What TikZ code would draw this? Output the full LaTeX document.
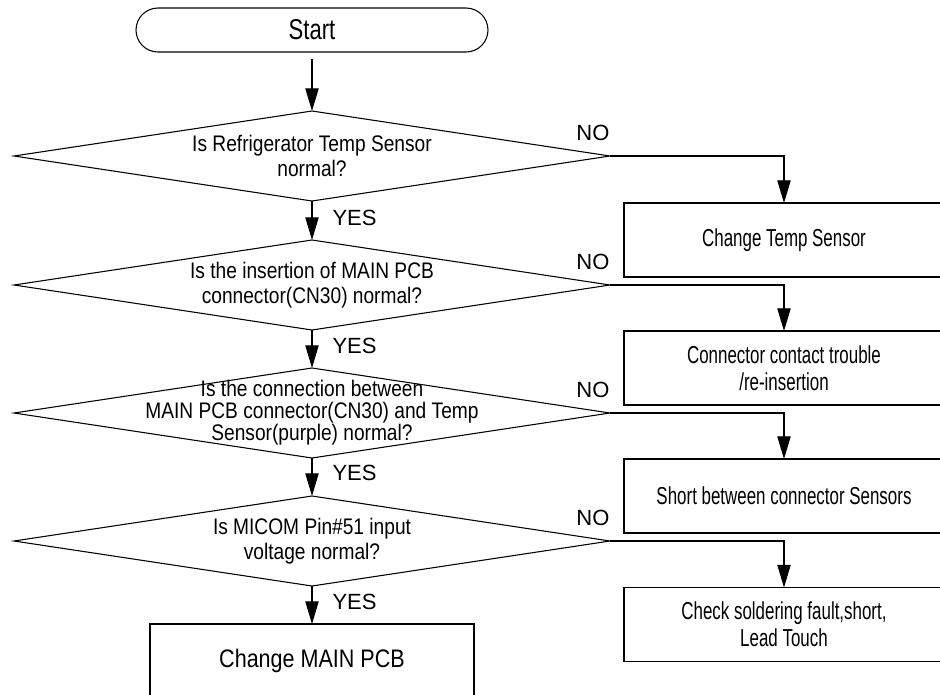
\documentclass[tikz,border=0pt]{standalone}
\usepackage{fontspec}
\setmainfont{Liberation Sans}
\newfontfamily\narrowfont{Liberation Sans}[FakeStretch=0.85]
\newfontfamily\boxfont{Liberation Sans}[FakeStretch=0.69]
\newfontfamily\startfont{Liberation Sans}[FakeStretch=0.77]
\usetikzlibrary{shapes.geometric,arrows.meta,calc}
\newcommand\mytightlines{\lineskiplimit=-20pt\relax\lineskip=0pt\relax}
\begin{document}
\begin{tikzpicture}[x=0.75pt,y=-0.75pt,
  line width=0.8pt,
  decision/.style={draw, shape=diamond, minimum width=447pt, minimum height=67.5pt, inner sep=0pt, outer sep=0pt},
  dtext/.style={align=center, inner sep=0pt, font=\narrowfont\fontsize{16.9}{18.75}\selectfont},
  dtextthree/.style={align=center, inner sep=0pt, font=\narrowfont\fontsize{16.9}{16.6}\selectfont\mytightlines},
  actbox/.style={draw, minimum width=240pt, minimum height=55.5pt, inner sep=0pt, outer sep=0pt, align=center, font=\boxfont\fontsize{18.4}{20.25}\selectfont},
  finalbox/.style={draw, minimum width=243pt, minimum height=55.5pt, inner sep=0pt, outer sep=0pt, align=center, font=\narrowfont\fontsize{19}{22}\selectfont},
  startbox/.style={draw, rounded corners=16.5pt, minimum width=264pt, minimum height=33pt, inner sep=0pt, outer sep=0pt, font=\startfont\fontsize{21.5}{24}\selectfont},
  lbl/.style={inner sep=0pt, font=\fontsize{16.5}{19}\selectfont},
  arr/.style={-{Triangle[length=17pt,width=10pt]}}
]
\useasboundingbox (0,0) rectangle (940,694);

\node[startbox] (start) at (312,30) {Start};

\node[decision] (d1) at (312,156) {};
\node[dtext] (t1) at (d1.center) {Is Refrigerator Temp Sensor\\normal?};
\node[decision] (d2) at (312,285) {};
\node[dtext] (t2) at (d2.center) {Is the insertion of MAIN PCB\\connector(CN30) normal?};
\node[decision] (d3) at (312,413) {};
\node[dtextthree] (t3) at (d3.center) {Is the connection between\\MAIN PCB connector(CN30) and Temp\\Sensor(purple) normal?};
\node[decision] (d4) at (312,541) {};
\node[dtext] (t4) at (d4.center) {Is MICOM Pin\#51 input\\voltage normal?};

\node[actbox] (b1) at (784,240) {Change Temp Sensor};
\node[actbox] (b2) at (784,368) {Connector contact trouble\\/re-insertion};
\node[actbox] (b3) at (784,496) {Short between connector Sensors};
\node[actbox] (b4) at (784,624.5) {Check soldering fault,short,\\Lead Touch};
\node[finalbox] (bm) at (312,661) {Change MAIN PCB};

\draw[arr, shorten <=5.25pt] (start.south) -- (d1.north);
\draw[arr] (d1.south) -- (d2.north);
\draw[arr] (d2.south) -- (d3.north);
\draw[arr] (d3.south) -- (d4.north);
\draw[arr] (d4.south) -- (bm.north);

\draw[arr] (d1.east) -| (b1.north);
\draw[arr] (d2.east) -| (b2.north);
\draw[arr] (d3.east) -| (b3.north);
\draw[arr] (d4.east) -| (b4.north);

\node[lbl, anchor=south east] (n1) at ($(d1.east)+(0,-15)$) {NO};
\node[lbl, anchor=south east] (n2) at ($(d2.east)+(0,-15)$) {NO};
\node[lbl, anchor=south east] (n3) at ($(d3.east)+(0,-15)$) {NO};
\node[lbl, anchor=south east] (n4) at ($(d4.east)+(0,-15)$) {NO};

\node[lbl, anchor=west] (y1) at ($(d1.south)+(20,17)$) {YES};
\node[lbl, anchor=west] (y2) at ($(d2.south)+(20,16)$) {YES};
\node[lbl, anchor=west] (y3) at ($(d3.south)+(20,15)$) {YES};
\node[lbl, anchor=west] (y4) at ($(d4.south)+(20,16)$) {YES};
\end{tikzpicture}
\end{document}
